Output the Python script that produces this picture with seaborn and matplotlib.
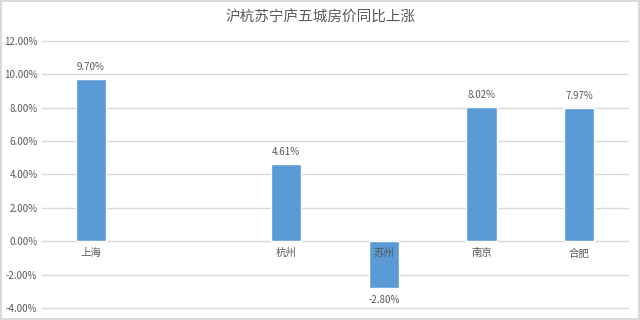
import numpy as np
import pandas as pd
import matplotlib
matplotlib.use("Agg")
import matplotlib.pyplot as plt
from matplotlib.ticker import FuncFormatter
import seaborn as sns

cities = ["上海", "", "杭州", "苏州", "南京", "合肥"]
rise = [9.70, np.nan, 4.61, -2.80, 8.02, 7.97]
title = "沪杭苏宁庐五城房价同比上涨"

sns.set_style("white")
plt.rcParams['font.family'] = ['Noto Sans CJK SC', 'DejaVu Sans']

df = pd.DataFrame({"city": cities, "rise": rise})

fig = plt.figure(figsize=(6.4, 3.2), dpi=100)
fig.patch.set_edgecolor("#d9d9d9")
fig.patch.set_linewidth(1.5)
ax = fig.add_axes([0.066, 0.0375, 0.915, 0.8345])

sns.barplot(data=df.dropna(), x="city", y="rise", order=cities, color="#5b9bd5",
            saturation=1, width=0.31, ax=ax, zorder=2)

ax.set_ylim(-4, 12)
ax.set_yticks(np.arange(-4, 12.1, 2))
ax.yaxis.set_major_formatter(FuncFormatter(lambda v, p: f"{v:.2f}%"))
ax.grid(axis="y", color="#d9d9d9", linewidth=1, zorder=0)
ax.set_axisbelow(True)
ax.xaxis.set_zorder(3)  # city names stay visible over the negative bar
for line in ax.get_ygridlines():
    line.set_clip_on(False)
for s in ["left", "right", "top"]:
    ax.spines[s].set_visible(False)
ax.spines["bottom"].set_position(("data", 0))
ax.spines["bottom"].set_color("#d9d9d9")
ax.spines["bottom"].set_zorder(1)
ax.tick_params(axis="both", length=0, colors="#595959", labelsize=7)
ax.tick_params(axis="x", pad=5, labelsize=7.5)
ax.set_xlabel("")
ax.set_ylabel("")

for i, v in enumerate(rise):
    if np.isnan(v):
        continue
    if v >= 0:
        ax.annotate(f"{v:.2f}%", (i, v), xytext=(0, 5), textcoords="offset points",
                    ha="center", va="bottom", fontsize=7, color="#595959")
    else:
        ax.annotate(f"{v:.2f}%", (i, v), xytext=(0, -5), textcoords="offset points",
                    ha="center", va="top", fontsize=7, color="#595959")

fig.text(0.5, 1 - 17 / 320, title, ha="center", va="center", fontsize=10.5, color="#595959")

fig.savefig("out.png", dpi=100, edgecolor=fig.get_edgecolor())
